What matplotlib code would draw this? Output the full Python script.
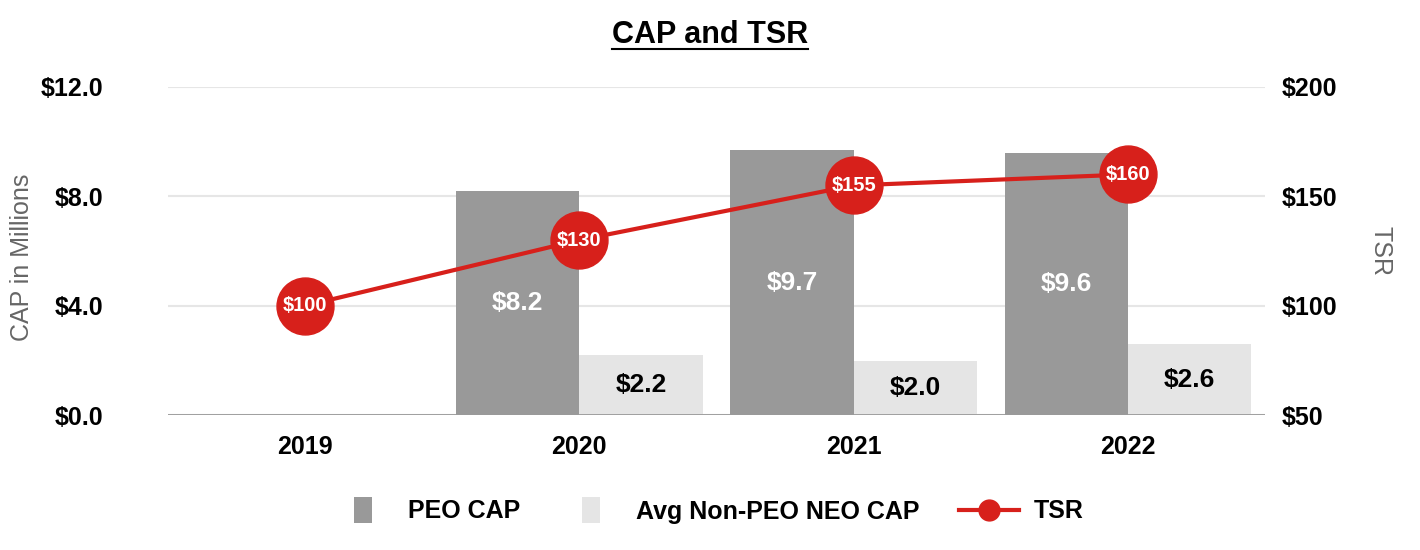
import numpy as np
import matplotlib
matplotlib.use("Agg")
from matplotlib import pyplot as plt
from matplotlib import font_manager
from matplotlib.lines import Line2D
from matplotlib.path import Path

years = ['2019', '2020', '2021', '2022']
peo_cap = [0.0, 8.2, 9.7, 9.6]
neo_cap = [0.0, 2.2, 2.0, 2.6]
tsr = [100, 130, 155, 160]
left_ticks = [0, 4, 8, 12]
right_ticks = [50, 100, 150, 200]

names = {f.name for f in font_manager.fontManager.ttflist}
narrow = 'Liberation Sans Narrow' if 'Liberation Sans Narrow' in names else 'Liberation Sans'
plt.rcParams['font.family'] = [narrow, 'DejaVu Sans']

fig = plt.figure(figsize=(14.2, 5.5), dpi=100)
ax = fig.add_axes([0.118, 0.245, 0.773, 0.597])
ax2 = ax.twinx()

x = np.arange(len(years))
w = 0.45
has = [v > 0 for v in peo_cap]
xb = x[has]
ax.bar(xb - w / 2, np.array(peo_cap)[has], w, color='#999999', zorder=2)
ax.bar(xb + w / 2, np.array(neo_cap)[has], w, color='#e5e5e5', zorder=2)

for xi, v in zip(xb, np.array(peo_cap)[has]):
    ax.text(xi - w / 2, v / 2, '$%.1f' % v, ha='center', va='center',
            color='white', fontsize=19, fontweight='bold', zorder=3)
for xi, v in zip(xb, np.array(neo_cap)[has]):
    ax.text(xi + w / 2, v / 2, '$%.1f' % v, ha='center', va='center',
            color='black', fontsize=19, fontweight='bold', zorder=3)

ax2.plot(x, tsr, color='#d7201b', lw=3, marker='o', ms=41, zorder=4)
for xi, v in zip(x, tsr):
    ax2.text(xi, v, '$%d' % v, ha='center', va='center', color='white',
             fontsize=14.5, fontweight='bold', zorder=5)

ax.set_xlim(-0.5, 3.5)
ax.set_ylim(0, 12)
ax2.set_ylim(50, 200)
ax.set_yticks(left_ticks)
ax.set_yticklabels(['$%.1f' % t for t in left_ticks])
ax2.set_yticks(right_ticks)
ax2.set_yticklabels(['$%d' % t for t in right_ticks])
ax.set_xticks(x)
ax.set_xticklabels(years)

ax.grid(axis='y', color='#e6e6e6', lw=1.5, zorder=0)
ax.set_axisbelow(True)
for a in (ax, ax2):
    for s in ['top', 'left', 'right', 'bottom']:
        a.spines[s].set_visible(False)
    a.tick_params(length=0, labelsize=18)
    for lab in a.get_xticklabels() + a.get_yticklabels():
        lab.set_fontweight('bold')
ax.axhline(0, color='#999999', lw=2, zorder=3)
ax.tick_params(axis='y', pad=46)
ax.tick_params(axis='x', pad=14)
ax2.tick_params(axis='y', pad=12)

ax.set_ylabel('CAP in Millions', color='#666666', fontsize=18,
              family=['Liberation Sans', 'DejaVu Sans'])
ax.yaxis.set_label_coords(-0.122, 0.48)
ax2.set_ylabel('TSR', color='#666666', fontsize=18, rotation=270,
               family=['Liberation Sans', 'DejaVu Sans'], va='center')
ax2.yaxis.set_label_coords(1.105, 0.5)

title = fig.text(0.5, 0.937, 'CAP and TSR', ha='center', va='center', fontsize=22,
                 fontweight='bold', family=['Liberation Sans', 'DejaVu Sans'])
fig.canvas.draw()
bb = title.get_window_extent().transformed(fig.transFigure.inverted())
fig.add_artist(Line2D([bb.x0, bb.x1], [bb.y0 + 0.002, bb.y0 + 0.002], color='black', lw=1.5))

# tall rectangle marker for the bar legend entries
rect = Path([(-0.33, -0.5), (0.33, -0.5), (0.33, 0.5), (-0.33, 0.5), (-0.33, -0.5)],
            [Path.MOVETO, Path.LINETO, Path.LINETO, Path.LINETO, Path.CLOSEPOLY])
handles = [Line2D([], [], ls='none', marker=rect, ms=19, color='#999999', mew=0),
           Line2D([], [], ls='none', marker=rect, ms=19, color='#e5e5e5', mew=0),
           Line2D([], [], color='#d7201b', lw=3, marker='o', ms=15)]
fig.legend(handles, ['PEO CAP', 'Avg Non-PEO NEO CAP', 'TSR'],
           loc='center', bbox_to_anchor=(0.499, 0.07), ncol=3, frameon=False,
           prop={'size': 18, 'weight': 'bold'}, handlelength=2.4,
           columnspacing=1.6, handletextpad=0.6)

plt.savefig('out.png', dpi=100)
